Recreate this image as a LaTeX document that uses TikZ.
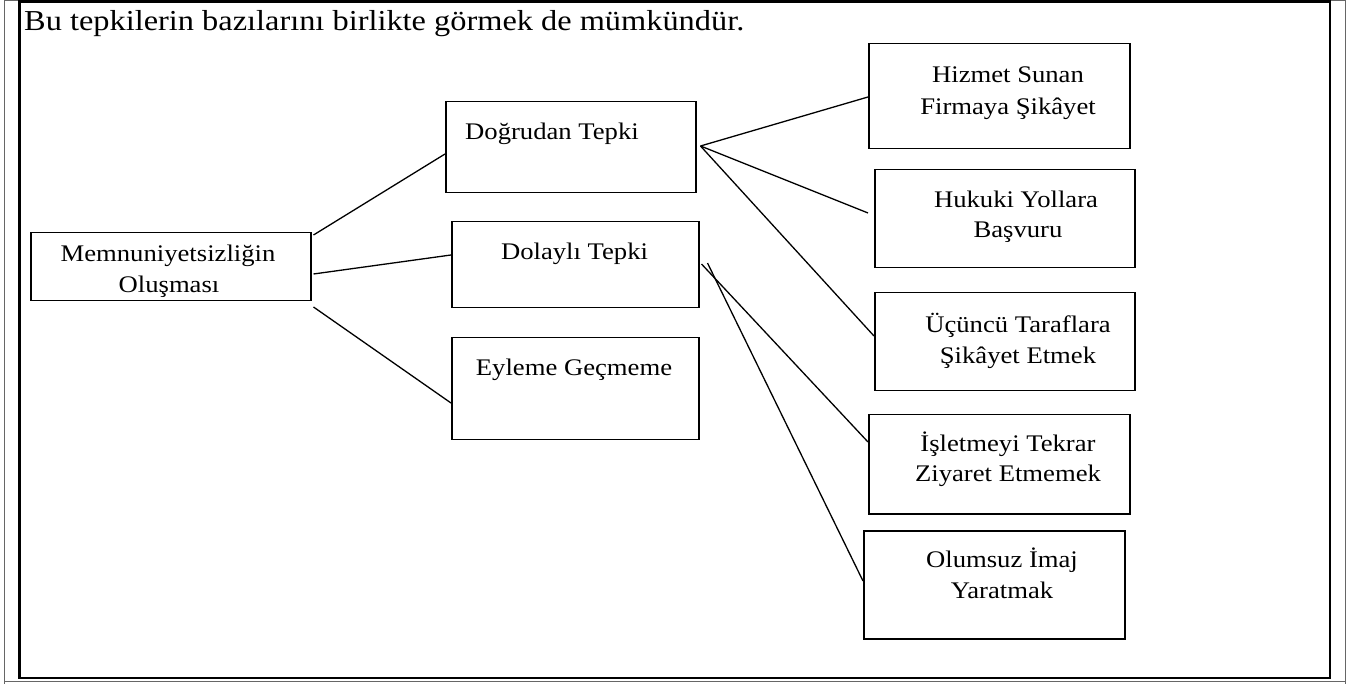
\documentclass[tikz,border=0pt]{standalone}
\usepackage{fontspec}
\setmainfont{Liberation Serif}[FakeStretch=1.12]
\begin{document}
\begin{tikzpicture}[x=1pt,y=-1pt,
  box/.style={draw=black, line width=1.5pt, rectangle, inner sep=0pt, anchor=north west},
  txt/.style={inner sep=0pt, anchor=base, font=\fontsize{23.8}{28}\selectfont},
  conn/.style={draw=black, line width=1.3pt},
  frame/.style={draw=black, line width=2.6pt},
  thin/.style={draw=black!60, line width=0.9pt}]
\useasboundingbox (0,0) rectangle (1350,684);
% frame
\draw[thin] (4,0) -- (4,684);
\draw[thin] (1345,0) -- (1345,684);
\draw[thin] (4,681.5) -- (1345,681.5);
\draw[thin] (4,0.8) -- (1345,0.8);
\draw[frame] (19.5,1.5) -- (1330,1.5) -- (1330,678) -- (19.5,678) -- cycle;
% title
\node[inner sep=0pt, anchor=base west, font=\fontsize{28.9}{34}\selectfont] (title) at (24,31) {Bu tepkilerin bazılarını birlikte görmek de mümkündür.};
% boxes
\node[box, minimum width=280, minimum height=68] (memn) at (30,232) {};
\node[box, minimum width=250, minimum height=91] (dog) at (445,101) {};
\node[box, minimum width=247, minimum height=86] (dol) at (451,221) {};
\node[box, minimum width=247, minimum height=102] (eyl) at (451,337) {};
\node[box, minimum width=261, minimum height=105] (hiz) at (868,43) {};
\node[box, minimum width=260, minimum height=98] (huk) at (874,169) {};
\node[box, minimum width=260, minimum height=98] (ucu) at (874,292) {};
\node[box, minimum width=261, minimum height=99] (isl) at (868,414) {};
\node[box, minimum width=261, minimum height=108] (olu) at (863,530) {};
% texts
\node[txt] (memn1) at (168,262) {Memnuniyetsizliğin};
\node[txt] (memn2) at (169,293) {Oluşması};
\node[txt, anchor=base west] (dog1) at (465,140) {Doğrudan Tepki};
\node[txt] (dol1) at (574.5,260) {Dolaylı Tepki};
\node[txt] (eyl1) at (574,376) {Eyleme Geçmeme};
\node[txt] (hiz1) at (1008,83) {Hizmet Sunan};
\node[txt] (hiz2) at (1008,115) {Firmaya Şikâyet};
\node[txt] (huk1) at (1016,208) {Hukuki Yollara};
\node[txt] (huk2) at (1018,238) {Başvuru};
\node[txt] (ucu1) at (1018,333) {Üçüncü Taraflara};
\node[txt] (ucu2) at (1018,364) {Şikâyet Etmek};
\node[txt] (isl1) at (1008,452) {İşletmeyi Tekrar};
\node[txt] (isl2) at (1008,482) {Ziyaret Etmemek};
\node[txt] (olu1) at (1002,567) {Olumsuz İmaj};
\node[txt] (olu2) at (1002,598) {Yaratmak};
% connectors
\draw[conn] ([shift={(2,3)}]memn.north east) -- ([shift={(0,53)}]dog.north west);
\draw[conn] ([shift={(2,42)}]memn.north east) -- ([shift={(0,34)}]dol.north west);
\draw[conn] ([shift={(2,75)}]memn.north east) -- ([shift={(0,66)}]eyl.north west);
\draw[conn] ([shift={(4,45)}]dog.north east) -- ([shift={(0,54)}]hiz.north west);
\draw[conn] ([shift={(4,45)}]dog.north east) -- ([shift={(-6,44)}]huk.north west);
\draw[conn] ([shift={(4,45)}]dog.north east) -- ([shift={(0,44)}]ucu.north west);
\draw[conn] ([shift={(2,43)}]dol.north east) -- ([shift={(0,28)}]isl.north west);
\draw[conn] ([shift={(8,42)}]dol.north east) -- ([shift={(0,51)}]olu.north west);
\end{tikzpicture}
\end{document}
